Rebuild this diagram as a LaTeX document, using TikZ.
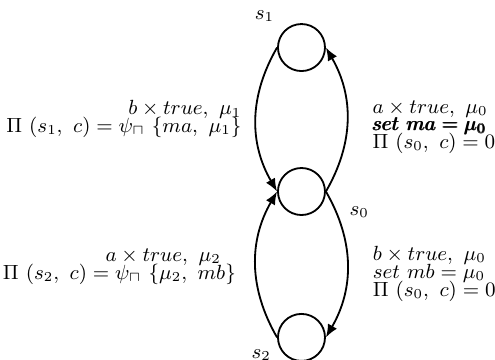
\documentclass[tikz,border=0pt]{standalone}
\usepackage{amsmath,amssymb}
\usepackage{tikz}
\usetikzlibrary{arrows.meta,positioning,calc}

\begin{document}
\begin{tikzpicture}[font=\small,
    state/.style={circle,draw,thick,minimum size=0.725cm,inner sep=0pt},
    trans/.style={thick,-{Latex[length=2mm,width=1.6mm]}}]
    \useasboundingbox (-4.649,-2.583) rectangle (2.984,2.953);
    % states
    \node[state] (s0) at (0,0) {};
    \node[state] (s1) at (0,2.22) {};
    \node[state] (s2) at (0,-2.25) {};
    \node (ls1) at ($(s1)+(-0.57,0.49)$) {$s_1$};
    \node (ls0) at ($(s0)+(0.89,-0.32)$) {$s_0$};
    \node (ls2) at ($(s2)+(-0.62,-0.27)$) {$s_2$};
    % s1 -> s0 and back
    \draw[trans] (s1.west) to[bend right=30]
        node[left=2.7pt,yshift=-1.8pt,align=right] (t10) {\smash{$b\times true,\ \mu_1$}\\[-3.2pt] \smash{$\Pi\ (s_1,\ c)=\psi_{\sqcap}\ \{ma,\ \mu_1\}$}} (s0.west);
    \draw[trans] (s0.east) to[bend right=30]
        node[right=7.5pt,yshift=-5pt,align=left] (t01) {\smash{$a\times true,\ \mu_0$}\\[-3.2pt] \smash{$\pmb{set\ ma=\mu_0}$}\\[-3.2pt] \smash{$\Pi\ (s_0,\ c)=0$}} (s1.east);
    % s2 -> s0 and back
    \draw[trans] (s2.west) to[bend left=30]
        node[left=5pt,yshift=-2.6pt,align=right] (t20) {\smash{$a\times true,\ \mu_2$}\hspace*{6.6pt}\\[-3.2pt] \smash{$\Pi\ (s_2,\ c)=\psi_{\sqcap}\ \{\mu_2,\ mb\}$}} (s0.west);
    \draw[trans] (s0.east) to[bend left=30]
        node[right=7.5pt,yshift=-6.1pt,align=left] (t02) {\smash{$b\times true,\ \mu_0$}\\[-3.2pt] \smash{$set\ mb=\mu_0$}\\[-3.2pt] \smash{$\Pi\ (s_0,\ c)=0$}} (s2.east);
\end{tikzpicture}
\end{document}
